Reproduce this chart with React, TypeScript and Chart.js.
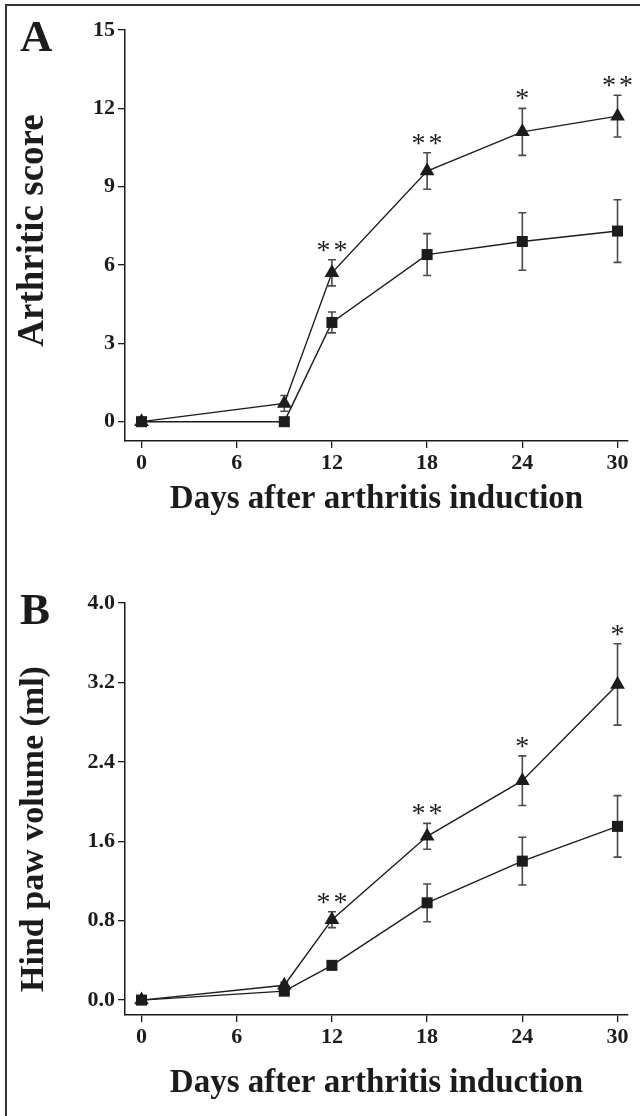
import React, { useEffect, useRef } from "react";
import { Chart, registerables } from "chart.js";

Chart.register(...registerables);

// ---------- data ----------
const days = [0, 9, 12, 18, 24, 30];
const dayTicks = [0, 6, 12, 18, 24, 30];

const scoreTriangle = [0, 0.7, 5.7, 9.6, 11.1, 11.7];
const scoreTriangleErr = [0, 0.3, 0.5, 0.7, 0.9, 0.8];
const scoreSquare = [0, 0, 3.8, 6.4, 6.9, 7.3];
const scoreSquareErr = [0, 0, 0.4, 0.8, 1.1, 1.2];
const scoreStars = ["", "", "**", "**", "*", "**"];
const scoreTicks = [0, 3, 6, 9, 12, 15];

const volTriangle = [0, 0.15, 0.81, 1.65, 2.21, 3.18];
const volTriangleErr = [0, 0.03, 0.08, 0.13, 0.25, 0.41];
const volSquare = [0, 0.09, 0.35, 0.98, 1.4, 1.75];
const volSquareErr = [0, 0.01, 0.03, 0.19, 0.24, 0.31];
const volStars = ["", "", "**", "**", "*", "*"];
const volTicks = [0, 0.8, 1.6, 2.4, 3.2, 4.0];

const xTitle = "Days after arthritis induction";
const scoreTitle = "Arthritic score";
const volTitle = "Hind paw volume (ml)";

// ---------- styling ----------
const FONT = "'Liberation Serif', 'Times New Roman', serif";
const INK = "#1c1c1c";

const errorBarsPlugin = {
  id: "errorBars",
  beforeDatasetsDraw(chart: any) {
    const { ctx } = chart;
    const xs = chart.scales.x;
    const ys = chart.scales.y;
    ctx.save();
    ctx.strokeStyle = "#4a4a4a";
    ctx.lineWidth = 1.6;
    chart.data.datasets.forEach((ds: any) => {
      ds.data.forEach((pt: any, i: number) => {
        const e = ds.errors[i];
        if (!e) return;
        const px = xs.getPixelForValue(pt.x);
        const top = ys.getPixelForValue(pt.y + e);
        const bot = ys.getPixelForValue(pt.y - e);
        ctx.beginPath();
        ctx.moveTo(px, top);
        ctx.lineTo(px, bot);
        ctx.moveTo(px - 4, top);
        ctx.lineTo(px + 4, top);
        ctx.moveTo(px - 4, bot);
        ctx.lineTo(px + 4, bot);
        ctx.stroke();
      });
    });
    ctx.restore();
  },
};

const starsPlugin = {
  id: "stars",
  afterDatasetsDraw(chart: any, _args: any, opts: any) {
    const marks: string[] = opts.marks || [];
    const ds: any = chart.data.datasets[0];
    const { ctx } = chart;
    const xs = chart.scales.x;
    const ys = chart.scales.y;
    ctx.save();
    ctx.fillStyle = INK;
    ctx.font = `28px ${FONT}`;
    ctx.textAlign = "center";
    ctx.textBaseline = "alphabetic";
    (ctx as any).letterSpacing = "3px";
    marks.forEach((m, i) => {
      if (!m) return;
      const pt = ds.data[i];
      const px = xs.getPixelForValue(pt.x);
      const top = ys.getPixelForValue(pt.y + (ds.errors[i] || 0));
      ctx.fillText(m, px + 1.5, top - 1);
    });
    ctx.restore();
  },
};

const labelsPlugin = {
  id: "panelText",
  afterDraw(chart: any, _args: any, opts: any) {
    const { ctx, chartArea } = chart;
    ctx.save();
    ctx.fillStyle = INK;
    // panel letter
    ctx.font = `bold 45px ${FONT}`;
    ctx.textAlign = "left";
    ctx.textBaseline = "alphabetic";
    ctx.fillText(opts.letter, 20, chartArea.top + 21);
    // y-axis title (rotated)
    const cy = (chartArea.top + chartArea.bottom) / 2 + opts.yTitleShift;
    ctx.translate(43, cy);
    ctx.rotate(-Math.PI / 2);
    ctx.font = `bold ${opts.yTitleSize}px ${FONT}`;
    ctx.textAlign = "center";
    ctx.textBaseline = "alphabetic";
    ctx.fillText(opts.yTitle, 0, 0);
    ctx.restore();
  },
};

type PanelSpec = {
  letter: string;
  yTitle: string;
  yTitleSize: number;
  yTitleShift: number;
  triangle: number[];
  triangleErr: number[];
  square: number[];
  squareErr: number[];
  stars: string[];
  yTicks: number[];
  yMin: number;
  yDecimals: number;
  height: number;
  padTop: number;
  xScaleHeight: number;
  xTitlePad: number;
};

function buildConfig(p: PanelSpec): any {
  const toPts = (vals: number[]) => vals.map((v, i) => ({ x: days[i], y: v }));
  return {
    type: "line",
    data: {
      datasets: [
        {
          label: "triangle",
          data: toPts(p.triangle),
          errors: p.triangleErr,
          borderColor: INK,
          backgroundColor: INK,
          borderWidth: 1.4,
          pointStyle: "triangle",
          pointRadius: 8.5,
          pointBorderWidth: 0,
          tension: 0,
        },
        {
          label: "square",
          data: toPts(p.square),
          errors: p.squareErr,
          borderColor: INK,
          backgroundColor: INK,
          borderWidth: 1.4,
          pointStyle: "rect",
          pointRadius: 7.8,
          pointBorderWidth: 0,
          tension: 0,
        },
      ],
    },
    options: {
      responsive: false,
      animation: false,
      devicePixelRatio: 1,
      layout: { padding: { left: 0, right: 12, top: p.padTop, bottom: 0 } },
      plugins: {
        legend: { display: false },
        tooltip: { enabled: false },
        stars: { marks: p.stars },
        panelText: {
          letter: p.letter,
          yTitle: p.yTitle,
          yTitleSize: p.yTitleSize,
          yTitleShift: p.yTitleShift,
        },
      },
      scales: {
        x: {
          type: "linear",
          min: -1.04,
          max: 30.66,
          afterBuildTicks: (s: any) => {
            s.ticks = dayTicks.map((v) => ({ value: v }));
          },
          afterFit: (s: any) => {
            s.height = p.xScaleHeight;
          },
          grid: {
            display: true,
            drawOnChartArea: false,
            drawTicks: true,
            tickLength: 7,
            color: INK,
            lineWidth: 1.3,
          },
          border: { display: true, color: INK, width: 1.5 },
          ticks: {
            color: INK,
            font: { family: FONT, size: 22, weight: "bold" },
            padding: 2,
            maxRotation: 0,
            callback: (v: any) => String(v),
          },
          title: {
            display: true,
            text: xTitle,
            color: INK,
            font: { family: FONT, size: 33, weight: "bold" },
            padding: { top: 0, bottom: p.xTitlePad },
          },
        },
        y: {
          type: "linear",
          min: p.yMin,
          max: p.yTicks[p.yTicks.length - 1],
          afterBuildTicks: (s: any) => {
            s.ticks = p.yTicks.map((v) => ({ value: v }));
          },
          afterFit: (s: any) => {
            s.width = 125;
          },
          grid: {
            display: true,
            drawOnChartArea: false,
            drawTicks: true,
            tickLength: 7,
            color: INK,
            lineWidth: 1.3,
          },
          border: { display: true, color: INK, width: 1.5 },
          ticks: {
            color: INK,
            font: { family: FONT, size: 22, weight: "bold" },
            padding: 3,
            callback: (v: any) => Number(v).toFixed(p.yDecimals),
          },
        },
      },
    },
    plugins: [errorBarsPlugin, starsPlugin, labelsPlugin],
  };
}

function Panel({ spec, top }: { spec: PanelSpec; top: number }) {
  const ref = useRef<HTMLCanvasElement | null>(null);
  useEffect(() => {
    if (!ref.current) return;
    const chart = new Chart(ref.current, buildConfig(spec));
    return () => chart.destroy();
  }, [spec]);
  return (
    <canvas
      ref={ref}
      width={640}
      height={spec.height}
      style={{ position: "absolute", left: 0, top, width: 640, height: spec.height }}
    />
  );
}

const panelA: PanelSpec = {
  letter: "A",
  yTitle: scoreTitle,
  yTitleSize: 37,
  yTitleShift: -5,
  triangle: scoreTriangle,
  triangleErr: scoreTriangleErr,
  square: scoreSquare,
  squareErr: scoreSquareErr,
  stars: scoreStars,
  yTicks: scoreTicks,
  yMin: -0.74,
  yDecimals: 0,
  height: 560,
  padTop: 30,
  xScaleHeight: 119,
  xTitlePad: 41,
};

const panelB: PanelSpec = {
  letter: "B",
  yTitle: volTitle,
  yTitleSize: 34,
  yTitleShift: 20,
  triangle: volTriangle,
  triangleErr: volTriangleErr,
  square: volSquare,
  squareErr: volSquareErr,
  stars: volStars,
  yTicks: volTicks,
  yMin: -0.15,
  yDecimals: 1,
  height: 556,
  padTop: 43,
  xScaleHeight: 101,
  xTitlePad: 13,
};

export default function App() {
  return (
    <div
      style={{
        position: "absolute",
        left: 0,
        top: 0,
        width: 640,
        height: 1116,
        overflow: "hidden",
        background: "#fff",
      }}
    >
      <div
        style={{
          position: "absolute",
          left: 5,
          top: 4,
          width: 700,
          height: 1200,
          borderLeft: "2px solid #333",
          borderTop: "2px solid #333",
        }}
      />
      <Panel spec={panelA} top={0} />
      <Panel spec={panelB} top={560} />
    </div>
  );
}
